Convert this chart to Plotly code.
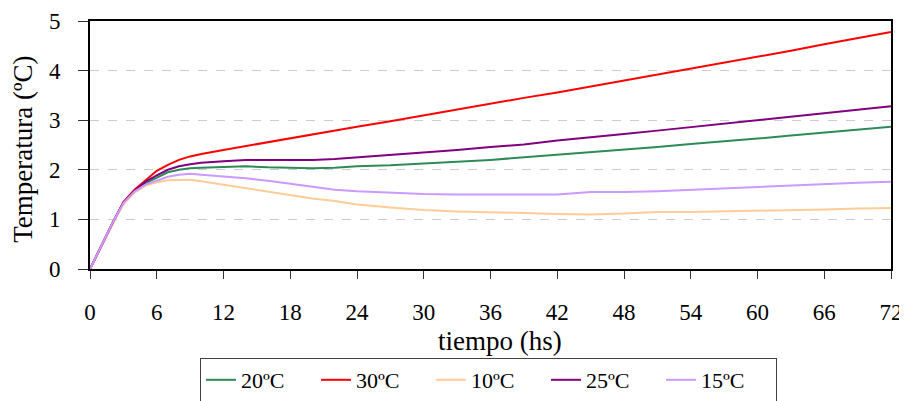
import plotly.graph_objects as go

hours = [0, 1, 2, 3, 4, 5, 6, 7, 8, 9, 10, 12, 14, 16, 18, 20, 22, 24, 27, 30, 33, 36,
         39, 42, 45, 48, 51, 54, 57, 60, 63, 66, 69, 72]

t20 = [0, 0.46, 0.92, 1.34, 1.57, 1.73, 1.84, 1.95, 2.0, 2.03, 2.04, 2.05, 2.07, 2.05, 2.04,
       2.03, 2.04, 2.07, 2.09, 2.12, 2.16, 2.2, 2.25, 2.3, 2.35, 2.4, 2.46, 2.52, 2.57, 2.63,
       2.69, 2.75, 2.81, 2.87]
t30 = [0, 0.46, 0.92, 1.35, 1.6, 1.8, 1.98, 2.1, 2.2, 2.27, 2.32, 2.4, 2.48, 2.56, 2.64,
       2.72, 2.8, 2.87, 2.98, 3.1, 3.22, 3.33, 3.45, 3.56, 3.68, 3.79, 3.91, 4.03, 4.15, 4.28,
       4.4, 4.53, 4.65, 4.78]
t10 = [0, 0.45, 0.9, 1.3, 1.54, 1.68, 1.75, 1.79, 1.8, 1.8, 1.77, 1.7, 1.62, 1.55, 1.48,
       1.42, 1.37, 1.3, 1.24, 1.19, 1.16, 1.15, 1.13, 1.11, 1.1, 1.12, 1.15, 1.15, 1.16, 1.17,
       1.19, 1.2, 1.22, 1.23]
t25 = [0, 0.46, 0.92, 1.34, 1.58, 1.76, 1.89, 2.0, 2.07, 2.11, 2.14, 2.17, 2.2, 2.2, 2.2,
       2.2, 2.22, 2.25, 2.3, 2.35, 2.4, 2.46, 2.51, 2.59, 2.65, 2.72, 2.79, 2.86, 2.93, 3.0,
       3.07, 3.14, 3.21, 3.28]
t15 = [0, 0.46, 0.92, 1.33, 1.56, 1.7, 1.78, 1.86, 1.9, 1.92, 1.9, 1.87, 1.83, 1.78, 1.72,
       1.66, 1.6, 1.57, 1.54, 1.51, 1.5, 1.5, 1.5, 1.5, 1.55, 1.55, 1.57, 1.6, 1.63, 1.66,
       1.69, 1.72, 1.74, 1.76]

series_names = ["20ºC", "30ºC", "10ºC", "25ºC", "15ºC"]
series_vals = [t20, t30, t10, t25, t15]
series_colors = ["#2E8B57", "#FF0000", "#FFCC99", "#800080", "#CC99FF"]

x_ticks = list(range(0, 73, 6))
y_ticks = [0, 1, 2, 3, 4, 5]
x_title = "tiempo (hs)"
y_title = "Temperatura (ºC)"

FONT = "Liberation Serif, Times New Roman, serif"

fig = go.Figure()
for name, vals, col in zip(series_names, series_vals, series_colors):
    fig.add_trace(go.Scatter(x=hours, y=vals, mode="lines", name=name,
                             line=dict(color=col, width=2)))

fig.add_annotation(text=x_title, xref="paper", yref="paper", x=0.512, y=-0.291,
                   xanchor="center", yanchor="middle", showarrow=False,
                   font=dict(family=FONT, size=27, color="black"))
fig.add_annotation(text=y_title, xref="paper", yref="paper", x=-0.0836, y=0.481,
                   xanchor="center", yanchor="middle", showarrow=False, textangle=-90,
                   font=dict(family=FONT, size=27, color="black"))

fig.update_layout(
    width=899, height=393,
    margin=dict(l=82, r=16, t=13, b=132),
    paper_bgcolor="white", plot_bgcolor="white",
    font=dict(family=FONT, size=23, color="black"),
    showlegend=True,
    legend=dict(orientation="h", xref="container", yref="container",
                x=0.2136, xanchor="left", y=0.1094, yanchor="top",
                bordercolor="#404040", borderwidth=1, bgcolor="white",
                font=dict(family=FONT, size=22, color="black"),
                entrywidth=70, entrywidthmode="pixels", traceorder="normal"),
    xaxis=dict(range=[0, 72], tickvals=x_ticks, ticktext=[str(v) for v in x_ticks],
               showgrid=False, zeroline=False, showline=True, linecolor="black",
               linewidth=2, mirror=True, ticks="outside", ticklen=8, tickcolor="#333333",
               tickwidth=1, tickfont=dict(size=23), ticklabelstandoff=13,
               automargin=False),
    yaxis=dict(range=[0, 5], tickvals=y_ticks, showgrid=True, gridcolor="#CCCCCC",
               griddash="dash", gridwidth=1, zeroline=False, showline=True,
               linecolor="black", linewidth=2, mirror=True, ticks="outside", ticklen=10,
               tickcolor="#333333", tickfont=dict(size=23), ticklabelstandoff=13,
               automargin=False),
)

fig.write_html("out.html")
